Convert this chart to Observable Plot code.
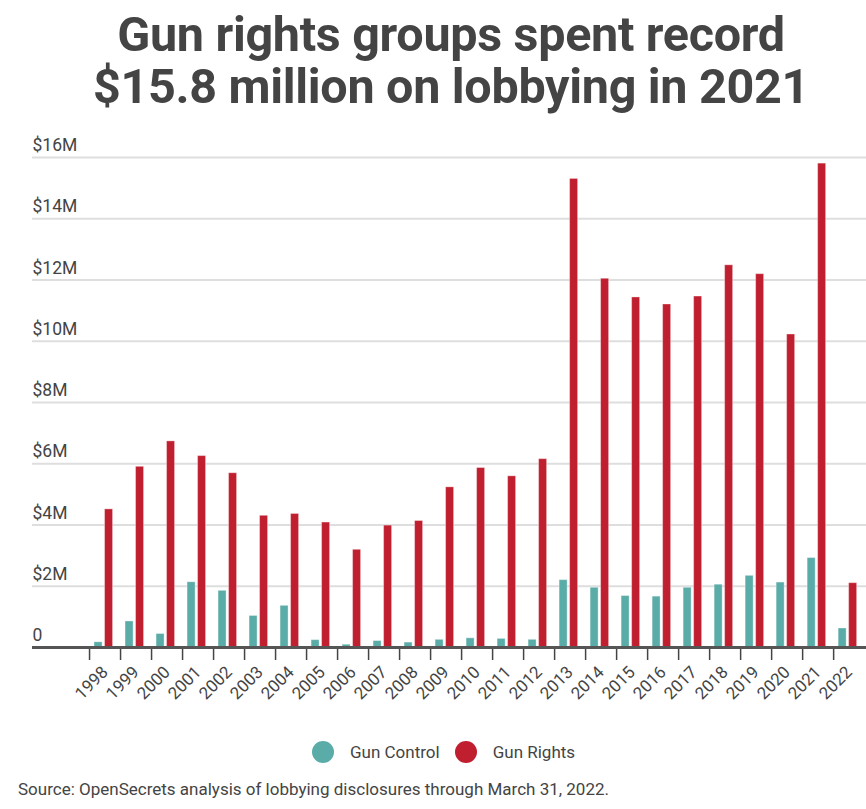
<!DOCTYPE html>
<html>
<head>
<meta charset="utf-8">
<script src="https://cdn.jsdelivr.net/npm/d3@7"></script>
<script src="https://cdn.jsdelivr.net/npm/@observablehq/plot@0.6"></script>
<style>
  html, body { margin: 0; padding: 0; background: #fff; }
  body { width: 866px; height: 809px; position: relative; font-family: Roboto, "Noto Sans", sans-serif; overflow: hidden; }
  #title { position: absolute; top: 9px; left: 18px; width: 866px; text-align: center; font-weight: 700; font-size: 48.5px; line-height: 52px; color: #444; letter-spacing: -0.3px; }
  #chart { position: absolute; top: 125px; left: 0; }
  #legend { position: absolute; top: 741px; left: 312px; display: flex; align-items: center; font-size: 17px; color: #444; }
  #legend .sw { width: 22px; height: 22px; border-radius: 50%; display: inline-block; margin-right: 16px; }
  #legend .item { display: flex; align-items: center; margin-right: 15px; }
  #source { position: absolute; top: 779px; left: 18px; font-size: 17px; color: #444; }
</style>
</head>
<body>
<div id="title">Gun rights groups spent record<br>$15.8 million on lobbying in 2021</div>
<div id="chart"></div>
<div id="legend"></div>
<div id="source">Source: OpenSecrets analysis of lobbying disclosures through March 31, 2022.</div>
<script>
// Annual lobbying spending, in millions of dollars
const years = [1998, 1999, 2000, 2001, 2002, 2003, 2004, 2005, 2006, 2007, 2008, 2009, 2010,
               2011, 2012, 2013, 2014, 2015, 2016, 2017, 2018, 2019, 2020, 2021, 2022];
const gunControl = [0.17, 0.85, 0.44, 2.13, 1.85, 1.03, 1.36, 0.24, 0.09, 0.21, 0.16, 0.25, 0.30,
                    0.28, 0.25, 2.20, 1.95, 1.68, 1.66, 1.95, 2.05, 2.34, 2.12, 2.92, 0.62];
const gunRights = [4.51, 5.90, 6.73, 6.25, 5.69, 4.30, 4.36, 4.08, 3.19, 3.98, 4.13, 5.23, 5.86,
                   5.59, 6.15, 15.30, 12.04, 11.43, 11.20, 11.46, 12.48, 12.19, 10.22, 15.80, 2.10];
const seriesNames = ["Gun Control", "Gun Rights"];
const seriesColors = ["#5aaca8", "#c01f2f"];
const yTicks = [0, 2, 4, 6, 8, 10, 12, 14, 16];

const rows = years.flatMap((year, i) => [
  {year, series: seriesNames[0], value: gunControl[i] * 1e6},
  {year, series: seriesNames[1], value: gunRights[i] * 1e6}
]);

const fmt = v => v === 0 ? "0" : `$${v}M`;

const chart = Plot.plot({
  width: 866,
  height: 595,
  marginLeft: 32,
  marginRight: 0,
  marginTop: 32,
  marginBottom: 73,
  style: {fontFamily: "Roboto, 'Noto Sans', sans-serif", background: "transparent"},
  x: {type: "linear", domain: [1996.16, 2023.06], axis: null, label: null},
  y: {domain: [0, 16e6], axis: null, label: null},
  color: {domain: seriesNames, range: seriesColors},
  marks: [
    Plot.ruleY(yTicks.filter(d => d > 0), {y: d => d * 1e6, stroke: "#dedede", strokeWidth: 2}),
    Plot.text(yTicks, {
      y: d => d * 1e6, text: fmt, frameAnchor: "left", textAnchor: "start",
      dy: -12, fontSize: 17.5, fill: "#444"
    }),
    Plot.rectY(rows.filter(d => d.series === seriesNames[0]), {
      x: "year", interval: 1, y: "value", fill: "series",
      insetLeft: 5, insetRight: 18, stroke: "#fff", strokeOpacity: 0.35, strokeWidth: 1
    }),
    Plot.rectY(rows.filter(d => d.series === seriesNames[1]), {
      x: "year", interval: 1, y: "value", fill: "series",
      insetLeft: 15.5, insetRight: 7.5, stroke: "#fff", strokeOpacity: 0.35, strokeWidth: 1
    }),
    Plot.axisX({ticks: years, tickSize: 13, tickFormat: () => "", label: null, stroke: "#444", strokeWidth: 1.5}),
    Plot.ruleY([0], {stroke: "#555", strokeWidth: 3}),
    Plot.text(years, {
      x: d => d + 0.5, text: d => String(d), frameAnchor: "bottom",
      rotate: -45, textAnchor: "end", lineAnchor: "middle",
      dx: 0, dy: 22, fontSize: 17, fill: "#444"
    })
  ]
});
document.getElementById("chart").append(chart);

const legend = document.getElementById("legend");
seriesNames.forEach((name, i) => {
  const item = document.createElement("span");
  item.className = "item";
  item.innerHTML = `<span class="sw" style="background:${seriesColors[i]}"></span>${name}`;
  legend.append(item);
});
</script>
</body>
</html>
